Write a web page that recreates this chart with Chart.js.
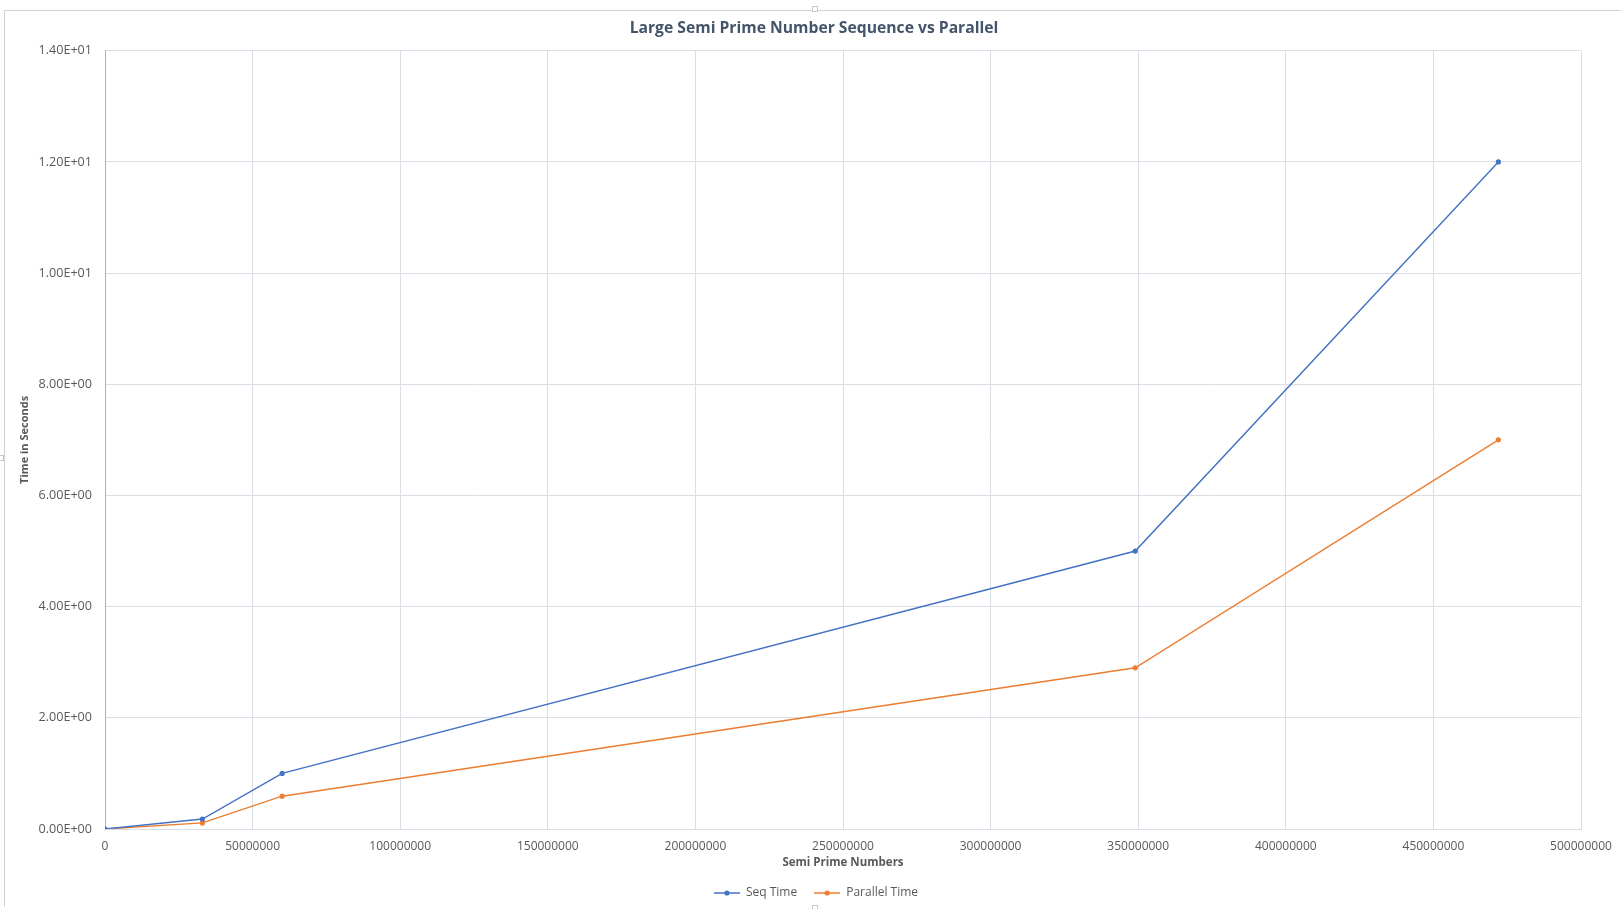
<!DOCTYPE html>
<html>
<head>
<meta charset="utf-8">
<title>Large Semi Prime Number Sequence vs Parallel</title>
<script src="https://cdn.jsdelivr.net/npm/chart.js@4"></script>
<style>
  html, body { margin: 0; padding: 0; background: #ffffff; }
  #wrap { width: 1623px; height: 909px; position: relative; }
</style>
</head>
<body>
<div id="wrap"><canvas id="chart" width="1623" height="909"></canvas></div>
<script>
// Semi prime sizes tested (x) and measured run times in seconds (y)
const semiPrimeNumbers = [0, 33000000, 60000000, 349000000, 472000000];
const seqTime = [0, 0.18, 1.0, 5.0, 12.0];
const parallelTime = [0, 0.11, 0.59, 2.9, 7.0];

const seriesNames = ['Seq Time', 'Parallel Time'];
const seriesColors = ['#4472C4', '#ED7D31'];

const xTickStep = 50000000;
const xMax = 500000000;
const yTickStep = 2;
const yMax = 14;

const FONT = "'Open Sans', 'Liberation Sans', sans-serif";
const TEXT = '#595959';
const GRID = '#d9dee7';

function toPoints(xs, ys) {
  return xs.map((x, i) => ({ x: x, y: ys[i] }));
}

// Excel-style "1.40E+01" number format
function sci(v) {
  if (v === 0) return '0.00E+00';
  const exp = Math.floor(Math.log10(Math.abs(v)));
  const mant = v / Math.pow(10, exp);
  const sign = exp < 0 ? '-' : '+';
  const e = String(Math.abs(exp)).padStart(2, '0');
  return mant.toFixed(2) + 'E' + sign + e;
}

// legend marker: short line with a dot in the middle
function lineDotMarker(color) {
  const c = document.createElement('canvas');
  c.width = 26; c.height = 8;
  const g = c.getContext('2d');
  g.strokeStyle = color; g.lineWidth = 1.5;
  g.beginPath(); g.moveTo(0, 4); g.lineTo(26, 4); g.stroke();
  g.fillStyle = color;
  g.beginPath(); g.arc(13, 4, 2.6, 0, Math.PI * 2); g.fill();
  return c;
}
const markers = seriesColors.map(lineDotMarker);

// outer chart frame with small selection handles; title and legend
// are centred on the frame rather than on the plot area
const framePlugin = {
  id: 'frame',
  afterLayout(chart) {
    const span = (box, l, r) => { if (box) { box.left = l; box.right = r; box.width = r - l; } };
    span(chart.titleBlock, 4, 1624);
    span(chart.legend, 8, 1624);
  },
  beforeDraw(chart) {
    const ctx = chart.ctx;
    ctx.save();
    ctx.fillStyle = '#ffffff';
    ctx.fillRect(0, 0, chart.width, chart.height);
    ctx.strokeStyle = '#d0d0d0';
    ctx.lineWidth = 1;
    ctx.beginPath();
    ctx.moveTo(1620.5, 10.5);
    ctx.lineTo(4.5, 10.5);
    ctx.lineTo(4.5, 906.5);
    ctx.stroke();
    const handles = [[815, 9], [1, 458], [815, 908]];
    handles.forEach(([hx, hy]) => {
      ctx.fillStyle = '#ffffff';
      ctx.fillRect(hx - 3, hy - 3, 6, 6);
      ctx.strokeStyle = '#c8c8c8';
      ctx.strokeRect(hx - 2.5, hy - 2.5, 5, 5);
    });
    ctx.restore();
  }
};

const datasets = [seqTime, parallelTime].map((vals, i) => ({
  label: seriesNames[i],
  data: toPoints(semiPrimeNumbers, vals),
  borderColor: seriesColors[i],
  backgroundColor: seriesColors[i],
  borderWidth: 1.4,
  pointRadius: 2.6,
  pointHoverRadius: 3,
  pointBorderWidth: 0,
  tension: 0,
  fill: false
}));

new Chart(document.getElementById('chart'), {
  type: 'scatter',
  data: { datasets: datasets },
  options: {
    responsive: false,
    animation: false,
    showLine: true,
    layout: { padding: { left: 0, right: 42, top: 0, bottom: 0 } },
    plugins: {
      title: {
        display: true,
        text: 'Large Semi Prime Number Sequence vs Parallel',
        color: '#44546A',
        font: { family: FONT, size: 15.7, weight: 'bold' },
        padding: { top: 19.5, bottom: 12.4 }
      },
      legend: {
        position: 'bottom',
        labels: {
          usePointStyle: true,
          pointStyleWidth: 26,
          padding: 17,
          color: TEXT,
          font: { family: FONT, size: 12 },
          generateLabels(chart) {
            const items = Chart.defaults.plugins.legend.labels.generateLabels(chart);
            items.forEach((it, i) => { it.pointStyle = markers[i]; });
            return items;
          }
        }
      },
      tooltip: { enabled: false }
    },
    scales: {
      x: {
        type: 'linear',
        min: 0,
        max: xMax,
        afterFit(scale) { scale.height = 41; },
        grid: { color: GRID, lineWidth: 1, drawTicks: false },
        border: { color: GRID },
        ticks: {
          stepSize: xTickStep,
          padding: 10,
          color: TEXT,
          font: { family: FONT, size: 12 },
          maxRotation: 0,
          callback: (v) => String(v)
        },
        title: {
          display: true,
          text: 'Semi Prime Numbers',
          color: TEXT,
          font: { family: FONT, size: 11.5, weight: 'bold' },
          padding: { top: 0, bottom: 0 }
        }
      },
      y: {
        type: 'linear',
        min: 0,
        max: yMax,
        afterFit(scale) { scale.width = 105; },
        grid: { color: GRID, lineWidth: 1, drawTicks: false },
        border: { color: '#a9b4c8' },
        ticks: {
          stepSize: yTickStep,
          padding: 13,
          color: TEXT,
          font: { family: FONT, size: 12.6 },
          callback: (v) => sci(v)
        },
        title: {
          display: true,
          text: 'Time in Seconds',
          color: TEXT,
          font: { family: FONT, size: 11, weight: 'bold' },
          padding: { top: 18.4, bottom: 0 }
        }
      }
    }
  },
  plugins: [framePlugin]
});
</script>
</body>
</html>
